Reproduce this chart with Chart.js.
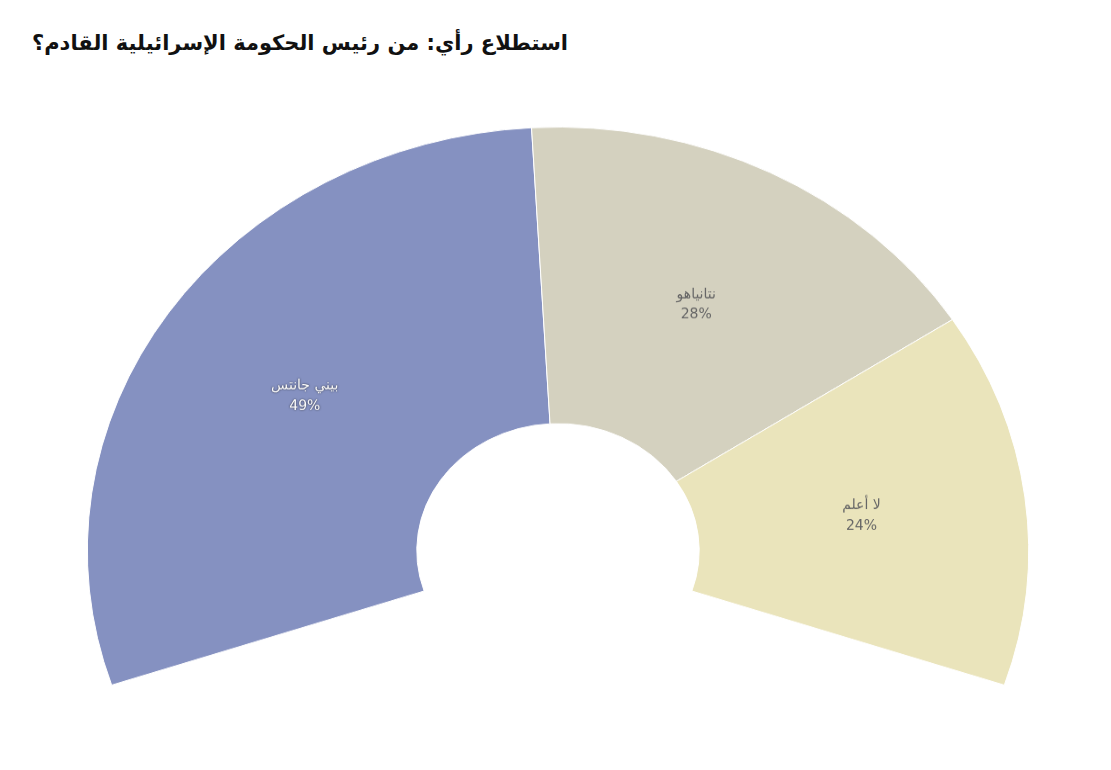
<!DOCTYPE html>
<html>
<head>
<meta charset="utf-8">
<script src="https://cdn.jsdelivr.net/npm/chart.js@4/dist/chart.umd.min.js"></script>
<style>
    body { margin: 0; background: #fff; width: 1111px; height: 770px; overflow: hidden; position: relative; }
    #title {
        position: absolute; left: 0; top: 31px; width: 568px;
        direction: rtl; text-align: right;
        font-family: 'DejaVu Sans', sans-serif; font-weight: bold; font-size: 21px; color: #111;
    }
    /* the reference pie is a little squashed vertically, so the canvas is scaled */
    #wrap {
        position: absolute; left: 0; top: 122.5px; width: 1111px; height: 645px;
        transform: scaleY(0.9); transform-origin: top left;
    }
</style>
</head>
<body>
<div id="title">استطلاع رأي: من رئيس الحكومة الإسرائيلية القادم؟</div>
<div id="wrap"><canvas id="pollPie" width="1111" height="645"></canvas></div>
<script>
//data
const names = ['بيني جانتس', 'نتانياهو', 'لا أعلم'];
const values = [49, 28, 24];
const colours = ['#8591c1', '#d4d1bf', '#eae4bb'];
const textColours = ['#ffffff', '#666666', '#666666'];

const squash = 0.9;

//labels drawn in the middle of each slice, un-squashed
const sliceLabels = {
    id: 'sliceLabels',
    afterDatasetsDraw(chart) {
        const ctx = chart.ctx;
        const meta = chart.getDatasetMeta(0);
        meta.data.forEach(function (arc, i) {
            const pos = arc.tooltipPosition();
            ctx.save();
            ctx.translate(pos.x, pos.y);
            ctx.scale(1, 1 / squash);
            ctx.font = '14px "DejaVu Sans", sans-serif';
            ctx.textAlign = 'center';
            ctx.textBaseline = 'middle';
            if (i === 0) {
                ctx.shadowColor = 'rgba(0,0,0,0.8)';
                ctx.shadowBlur = 2;
            }
            ctx.fillStyle = textColours[i];
            ctx.fillText(names[i], 0, -10);
            ctx.fillText(values[i] + '%', 0, 10);
            ctx.restore();
        });
    }
};

var ctx = document.getElementById('pollPie').getContext('2d');
const pollPie = new Chart(ctx, {
    type: 'doughnut',
    data: {
        labels: names,
        datasets: [
            {
                data: values,
                backgroundColor: colours,
                borderColor: '#ffffff',
                borderWidth: 1
            }
        ]
    },
    options: {
        responsive: false,
        animation: false,
        rotation: -108.5,
        circumference: 217,
        cutout: '30%',
        layout: { padding: { left: 86, right: 81, top: 4, bottom: 20 } },
        plugins: {
            legend: { display: false },
            tooltip: { enabled: false }
        }
    },
    plugins: [sliceLabels]
});
</script>
</body>
</html>
